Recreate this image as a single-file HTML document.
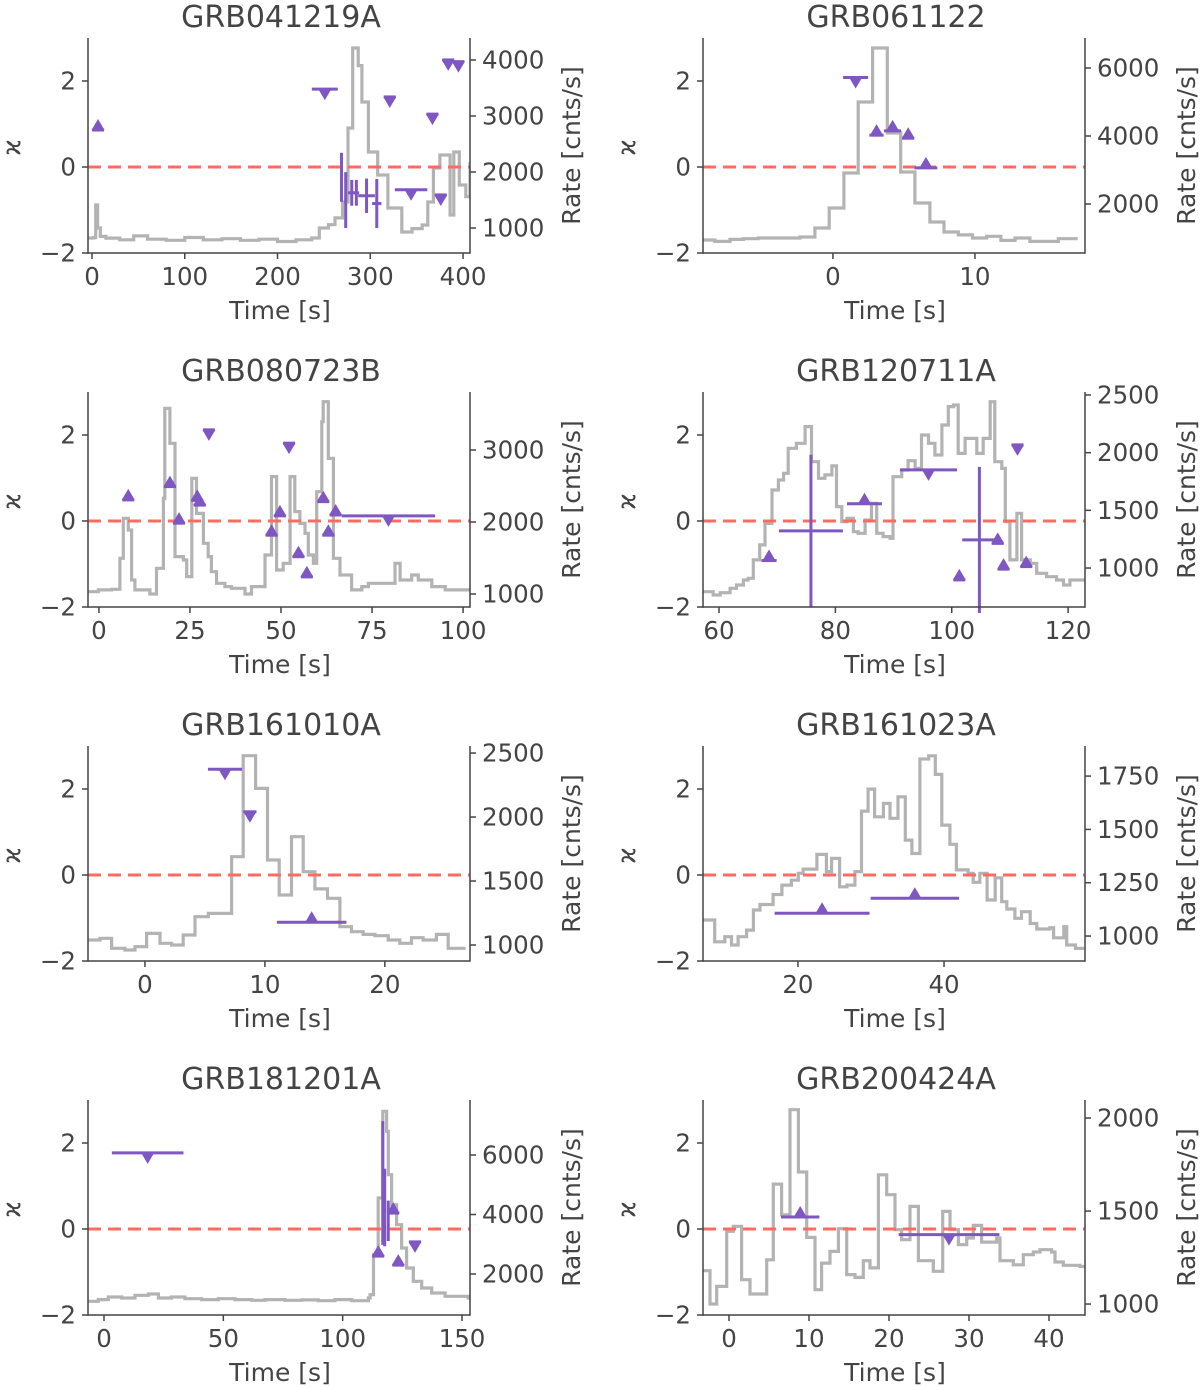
<!DOCTYPE html>
<html><head><meta charset="utf-8">
<style>
body{margin:0;background:#fff;}
svg{display:block;font-family:"DejaVu Sans","Liberation Sans",sans-serif;}
</style></head>
<body>
<svg id="fig" width="1200" height="1387" viewBox="0 0 1200 1387" xmlns="http://www.w3.org/2000/svg"></svg>
<script>
// ---------- Panel data (time [s], rate [cnts/s], chi values) ----------
const p1Times=[-4.3,2,4,6,9,15,30,45,60,80,100,120,140,160,180,200,220,237,245,255,262,270,276,281,287,291,298,308,319,334,345,356,362,368,375,386,390,396,403,407.5];
const p1Rates=[821,830,1411,1000,850,820,790,860,800,780,830,790,810,780,800,760,790,821,1000,1060,1180,1464,2786,4214,3900,3250,2357,1946,1357,929,990,1054,1464,2071,2304,1232,2357,1768,1560,2150];
const p1Lower=[[6.5,0.86,0]];
const p1Upper=[[251,1.81,14],[321,1.63,0],[367,1.23,0],[384,2.49,0],[395,2.45,0],[344,-0.53,17.5],[376,-0.65,0]];
const p1Err=[[269,-0.24,1.5,0.57],[273.5,-0.77,1.5,0.65],[280,-0.6,4,0.3],[285,-0.6,3,0.3],[296,-0.67,9,0.4],[307,-0.85,5,0.57]];

const p2Times=[-9.15,-8.31,-7.25,-6.31,-5.26,-2.32,-1.27,-0.26,0.77,1.78,2.79,3.83,4.77,5.77,6.83,7.82,8.83,9.83,10.82,11.83,12.82,13.87,15.87,16.92];
const p2Rates=[941,900,960,980,1000,1030,1294,1882,2912,5000,6588,4088,2941,2029,1471,1176,1090,1000,1050,930,1000,900,980,980];
const p2Lower=[[3.07,0.74,0.5],[4.2,0.84,0.6],[5.3,0.67,0.4],[6.55,-0.02,0.8]];
const p2Upper=[[1.6,2.08,0.88]];
const p2Err=[];

const p3Times=[-3,-0.18,3.48,5.77,6.68,8.06,8.97,9.89,14.0,15.8,17.7,18.1,19.5,20.9,23.2,24.1,25.5,26.8,28.7,30.0,30.9,32.3,34.6,36.4,40.1,41.9,45.6,47.4,48.8,50.6,52.5,53.8,55.2,56.6,57.5,58.9,59.8,61.2,61.6,63.0,64.4,66.2,69.4,72.2,74.0,81.3,82.7,85.9,87.7,91.4,95.1,101.5];
const p3Rates=[1032,1056,1065,1495,2051,1889,1194,1056,1000,1356,2329,3579,3093,1519,1472,1241,2606,2120,1704,1519,1310,1148,1102,1079,1000,1102,1542,2630,1333,1426,2630,2144,1981,1843,1542,1426,2421,3394,3671,2884,1495,1264,1056,1102,1148,1426,1194,1264,1194,1102,1056,1056];
const p3Lower=[[8.06,0.49,0],[19.5,0.8,0],[22,-0.05,0],[27,0.48,0],[27.7,0.37,0],[49.7,0.12,0],[47.4,-0.33,0],[54.8,-0.83,0],[57.1,-1.3,0],[61.6,0.45,0],[63.0,-0.33,0],[65.0,0.14,0]];
const p3Upper=[[30.2,2.12,0],[52.2,1.81,0],[79.5,0.12,12.8]];
const p3Err=[];

const p4Times=[57.3,59.0,60.2,61.9,63.0,64.2,65.0,65.9,67.0,67.9,69.1,70.2,71.1,71.9,73.3,74.8,75.9,77.1,78.2,79.4,80.2,81.1,82.0,83.1,83.9,85.1,86.2,87.1,88.2,89.4,89.9,91.4,92.5,93.7,94.8,96.0,97.1,98.3,99.4,100.3,101.1,102.3,104.3,105.4,106.6,107.4,108.6,109.2,110.0,111.2,112.0,113.5,114.6,116.3,118.0,119.2,120.3,122.3];
const p4Rates=[795,766,786,824,853,896,911,1070,1200,1387,1676,1763,1821,2038,2081,2226,1922,1778,1807,1885,1532,1402,1431,1315,1301,1416,1561,1301,1272,1258,1792,1850,1930,1864,2153,2081,1980,2240,2399,2413,1994,2124,1994,2124,2442,1922,1864,1402,1070,1474,1070,1040,954,925,896,853,896,896];
const p4Lower=[[68.6,-0.92,1.3],[85.0,0.4,3.0],[107.9,-0.52,0],[101.3,-1.37,0],[108.9,-1.12,0],[112.8,-1.06,0]];
const p4Upper=[[96.0,1.19,4.9],[111.3,1.77,0]];
const p4Err=[[75.8,-0.23,5.5,1.77],[104.75,-0.44,2.95,1.7]];

const p5Times=[-4.72,-3.75,-2.78,-1.67,-0.83,0.14,1.25,2.22,3.19,4.17,5.28,7.22,8.19,9.22,10.22,11.19,12.22,13.19,14.17,15.22,16.25,17.22,18.19,19.17,20.28,21.25,22.22,23.19,24.3,25.28,26.4];
const p5Rates=[1039,1052,974,961,987,1091,1013,1000,1078,1221,1247,1690,2479,2224,1664,1391,1846,1573,1438,1365,1143,1104,1083,1073,1039,1013,1057,1039,1083,974,974];
const p5Lower=[[13.9,-1.1,2.9]];
const p5Upper=[[6.67,2.46,1.42],[8.75,1.47,0.55]];
const p5Err=[];

const p6Times=[6.97,7.3,8.6,9.99,10.9,11.8,12.97,13.9,14.8,16.6,17.8,19.1,20.05,20.7,22.6,23.9,24.6,25.7,26.7,27.8,28.7,29.6,30.5,31.7,32.6,33.7,34.7,35.6,36.7,37.9,38.8,39.7,40.8,41.7,43.3,44.0,44.9,45.9,47.0,47.9,48.6,49.7,50.6,51.8,52.7,54.5,55.0,56.4,56.8,58.0,58.9];
const p6Rates=[1075,1075,973,997,958,997,1028,1122,1148,1195,1239,1262,1294,1314,1383,1302,1364,1231,1239,1302,1586,1689,1559,1622,1552,1653,1450,1387,1830,1845,1758,1520,1430,1310,1294,1252,1294,1169,1273,1161,1127,1083,1114,1059,1033,1039,992,1044,958,942,942];
const p6Lower=[[23.3,-0.89,6.5],[36.0,-0.54,6.05]];
const p6Upper=[];
const p6Err=[];

const p7Times=[-6.56,-2.38,1.82,7.4,13.0,18.6,22.8,28.3,33.9,40.9,47.9,54.9,61.9,67.5,75.8,82.8,89.8,96.8,103.8,110.8,111.5,112.9,114.9,116.8,118.4,119.1,120.5,122.6,124.7,126.8,129.6,133.1,137.3,142.9,152.6];
const p7Rates=[1082,1138,1228,1194,1283,1327,1194,1228,1170,1138,1170,1138,1115,1138,1115,1130,1104,1138,1104,1194,1306,2650,4555,7468,6796,5338,4330,3657,2873,2202,1754,1530,1362,1250,1194];
const p7Lower=[[114.9,-0.63,0],[121.2,0.37,0],[123.3,-0.84,0]];
const p7Upper=[[18.3,1.77,15],[130.3,-0.3,0]];
const p7Err=[[116.8,1.07,0.3,1.44],[117.6,0.5,0.3,0.9],[119.1,0.19,0.3,0.47]];

const p8Times=[-3.21,-2.38,-1.54,-0.29,0.54,1.58,2.63,4.71,5.54,6.58,7.63,8.67,9.71,10.75,11.58,12.63,13.67,14.71,15.75,16.79,17.63,18.67,19.71,20.75,21.58,22.63,23.67,25.54,26.71,27.63,28.67,29.71,30.54,31.58,33.46,33.88,35.54,36.79,38.04,38.88,40.33,40.75,41.79,43.88];
const p8Rates=[1179,1000,1095,1391,1418,1131,1054,1238,1645,1480,2045,1710,1358,1077,1220,1283,1405,1158,1143,1233,1194,1695,1588,1400,1346,1525,1233,1176,1498,1400,1319,1355,1423,1333,1355,1233,1211,1265,1280,1292,1280,1226,1208,1202];
const p8Lower=[[8.9,0.28,2.4]];
const p8Upper=[[27.5,-0.13,6.3]];
const p8Err=[];

// ---------- Panel config (titles / axis ticks) ----------
const titles=["GRB041219A","GRB061122","GRB080723B","GRB120711A","GRB161010A","GRB161023A","GRB181201A","GRB200424A"];
const xTickSets=[[0,100,200,300,400],[0,10],[0,25,50,75,100],[60,80,100,120],[0,10,20],[20,40],[0,50,100,150],[0,10,20,30,40]];
const rateTickSets=[[1000,2000,3000,4000],[2000,4000,6000],[1000,2000,3000],[1000,1500,2000,2500],[1000,1500,2000,2500],[1000,1250,1500,1750],[2000,4000,6000],[1000,1500,2000]];
const xLims=[[-4.3,407.5],[-9.15,17.75],[-3.0,101.9],[57.25,122.9],[-4.75,27.1],[7.0,59.3],[-6.7,153.35],[-3.25,44.5]];
const rateLims=[[554,4393],[559,6882],[819,3806],[662,2526],[875,2555],[883,1891],[622,7849],[941,2097]];
const chiTicks=[-2,0,2];
const allTimes=[p1Times,p2Times,p3Times,p4Times,p5Times,p6Times,p7Times,p8Times];
const allRates=[p1Rates,p2Rates,p3Rates,p4Rates,p5Rates,p6Rates,p7Rates,p8Rates];
const allLower=[p1Lower,p2Lower,p3Lower,p4Lower,p5Lower,p6Lower,p7Lower,p8Lower];
const allUpper=[p1Upper,p2Upper,p3Upper,p4Upper,p5Upper,p6Upper,p7Upper,p8Upper];
const allErr=[p1Err,p2Err,p3Err,p4Err,p5Err,p6Err,p7Err,p8Err];

const NS="http://www.w3.org/2000/svg";
const svg=document.getElementById('fig');
const TXT="#444444", GRAY="#b3b3b3", PURP="#7e57c2", RED="#ff6b61";
function mk(tag,attrs,parent){const e=document.createElementNS(NS,tag);for(const k in attrs)e.setAttribute(k,attrs[k]);(parent||svg).appendChild(e);return e;}
function fmt(v){return v<0?"\u2212"+Math.abs(v):String(v);}

const colX=[88,703], rowY=[38,392,746,1100], W=382, H=215;
for(let i=0;i<8;i++){
  const L=colX[i%2], T=rowY[Math.floor(i/2)];
  const g=mk('g',{});
  
  
  const [x0,x1]=xLims[i], [r0,r1]=rateLims[i];
  const X=t=>L+(t-x0)/(x1-x0)*W;
  const Y=v=>T+H-(v+2)/5*H;
  const R=r=>T+H-(r-r0)/(r1-r0)*H;
  const cid='clip'+i;
  const cp=mk('clipPath',{id:cid},g);mk('rect',{x:L,y:T,width:W,height:H},cp);
  const ts=allTimes[i], rs=allRates[i];
  let d="M"+X(ts[0]).toFixed(1)+","+R(rs[0]).toFixed(1);
  for(let k=1;k<ts.length;k++){d+=" H"+X(ts[k]).toFixed(1)+" V"+R(rs[k]).toFixed(1);}
  d+=" H"+X(ts[ts.length-1]+(ts[ts.length-1]-ts[ts.length-2])*0.3).toFixed(1);
  const curve=mk('path',{d:d,fill:'none',stroke:GRAY,'stroke-width':3.2,'stroke-linejoin':'miter','clip-path':'url(#'+cid+')'},g);
  
  
  const zl=mk('line',{x1:L,x2:L+W,y1:Y(0),y2:Y(0),stroke:RED,'stroke-width':3,'stroke-dasharray':'13,7'},g);
  
  
  allErr[i].forEach(e=>{
    const eb=mk('g',{},g);
    
    
    mk('line',{x1:X(e[0]-e[2]),x2:X(e[0]+e[2]),y1:Y(e[1]),y2:Y(e[1]),stroke:PURP,'stroke-width':3},eb);
    mk('line',{x1:X(e[0]),x2:X(e[0]),y1:Y(e[1]-e[3]),y2:Y(e[1]+e[3]),stroke:PURP,'stroke-width':3},eb);
  });
  allLower[i].forEach(p=>{
    const m=mk('g',{},g);
    
    
    const cx=X(p[0]), cy=Y(p[1]);
    const hw=Math.max(X(p[0]+p[2])-cx,6);
    mk('line',{x1:cx-hw,x2:cx+hw,y1:cy,y2:cy,stroke:PURP,'stroke-width':3},m);
    mk('path',{d:`M${cx-6.5},${cy} L${cx+6.5},${cy} L${cx},${cy-11} Z`,fill:PURP},m);
  });
  allUpper[i].forEach(p=>{
    const m=mk('g',{},g);
    
    
    const cx=X(p[0]), cy=Y(p[1]);
    const hw=Math.max(X(p[0]+p[2])-cx,6);
    mk('line',{x1:cx-hw,x2:cx+hw,y1:cy,y2:cy,stroke:PURP,'stroke-width':3},m);
    mk('path',{d:`M${cx-6.5},${cy} L${cx+6.5},${cy} L${cx},${cy+11} Z`,fill:PURP},m);
  });
  mk('line',{x1:L,x2:L,y1:T,y2:T+H+0.75,stroke:TXT,'stroke-width':1.5},g);
  mk('line',{x1:L+W,x2:L+W,y1:T,y2:T+H+0.75,stroke:TXT,'stroke-width':1.5},g);
  mk('line',{x1:L,x2:L+W,y1:T+H,y2:T+H,stroke:TXT,'stroke-width':1.5},g);
  chiTicks.forEach(v=>{
    mk('line',{x1:L-6,x2:L,y1:Y(v),y2:Y(v),stroke:TXT,'stroke-width':1.5},g);
    const t=mk('text',{x:L-12,y:Y(v)+8.5,'text-anchor':'end','font-size':24.5,fill:TXT},g);t.textContent=fmt(v);
    
    
  });
  rateTickSets[i].forEach(r=>{
    mk('line',{x1:L+W,x2:L+W+6,y1:R(r),y2:R(r),stroke:TXT,'stroke-width':1.5},g);
    const t=mk('text',{x:L+W+12,y:R(r)+8.5,'font-size':24.5,fill:TXT},g);t.textContent=String(r);
    
    
  });
  xTickSets[i].forEach(v=>{
    mk('line',{x1:X(v),x2:X(v),y1:T+H,y2:T+H+6,stroke:TXT,'stroke-width':1.5},g);
    const t=mk('text',{x:X(v),y:T+H+32,'text-anchor':'middle','font-size':24.5,fill:TXT},g);t.textContent=fmt(v);
    
    
  });
  const tt=mk('text',{x:L+W/2+2,y:T-11,'text-anchor':'middle','font-size':30,fill:TXT},g);tt.textContent=titles[i];
  
  
  const xl=mk('text',{x:L+W/2+1,y:T+H+66,'text-anchor':'middle','font-size':25,fill:TXT},g);xl.textContent="Time [s]";
  
  
  const yl=mk('text',{x:0,y:0,'text-anchor':'middle','font-size':25,fill:TXT,transform:`translate(${L-68},${T+H/2+2}) rotate(-90)`},g);yl.textContent="\u03F0";
  
  
  const yr=mk('text',{x:0,y:0,'text-anchor':'middle','font-size':25,fill:TXT,transform:`translate(${L+W+110},${T+H/2}) rotate(-90)`},g);yr.textContent="Rate [cnts/s]";
  
  
}
</script>
</body></html>
